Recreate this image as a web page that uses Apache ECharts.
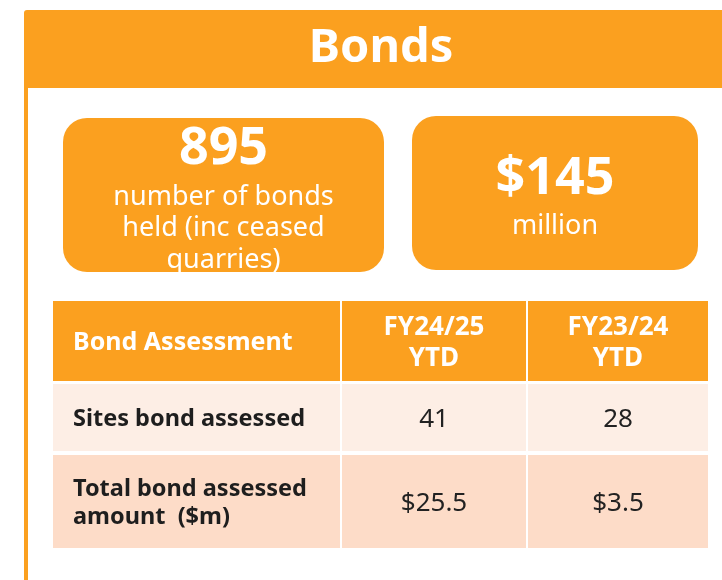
<!DOCTYPE html>
<html>
<head>
<meta charset="utf-8">
<script src="https://cdn.jsdelivr.net/npm/echarts@6/dist/echarts.min.js"></script>
<style>
  html, body { margin: 0; padding: 0; background: #fff; }
  #chart { width: 722px; height: 580px; }
</style>
</head>
<body>
<div id="chart"></div>
<script>
// data
const title = 'Bonds';
const statValues = ['895', '$145'];
const statLabels = [
    ['number of bonds', 'held (inc ceased', 'quarries)'],
    ['million']
];
const tableHeader = ['Bond Assessment', 'FY24/25\nYTD', 'FY23/24\nYTD'];
const rowLabels = ['Sites bond assessed', 'Total bond assessed\namount  ($m)'];
const fy2425 = ['41', '$25.5'];
const fy2324 = ['28', '$3.5'];

const ORANGE = '#FBA01F';
const FONT = '"Noto Sans", sans-serif';

const chart = echarts.init(document.getElementById('chart'));

const els = [];

// frame: header band + left border
els.push({ type: 'rect', shape: { x: 24, y: 10, width: 710, height: 78, r: [3, 0, 0, 0] }, style: { fill: ORANGE } });
els.push({ type: 'rect', shape: { x: 24, y: 86, width: 4, height: 500 }, style: { fill: ORANGE } });
els.push({
    type: 'text', x: 381, y: 49,
    style: { text: title, fill: '#fff', font: 'bold 47px ' + FONT, align: 'center', verticalAlign: 'middle' }
});

// stat boxes
const boxes = [
    { x: 63, y: 118, w: 321, h: 154, valY: 149, labY: 197 },
    { x: 412, y: 116, w: 286, h: 154, valY: 179, labY: 226 }
];
boxes.forEach((b, i) => {
    const cx = b.x + b.w / 2;
    els.push({ type: 'rect', shape: { x: b.x, y: b.y, width: b.w, height: b.h, r: 24 }, style: { fill: ORANGE } });
    els.push({
        type: 'text', x: cx, y: b.valY,
        style: { text: statValues[i], fill: '#fff', font: 'bold 52px ' + FONT, align: 'center', verticalAlign: 'middle' }
    });
    statLabels[i].forEach((t, j) => {
        els.push({
            type: 'text', x: cx, y: b.labY + j * 31.5,
            style: { text: t, fill: '#fff', font: '27px ' + FONT, align: 'center', verticalAlign: 'middle' }
        });
    });
});

// table
const colX = [53, 342, 528];
const colW = [287, 184, 180];
const rowY = [301, 384, 455];
const rowH = [80, 67, 93];
const rowFill = [ORANGE, '#FDEEE5', '#FDDCC8'];

const cells = [tableHeader].concat(rowLabels.map((l, i) => [l, fy2425[i], fy2324[i]]));
cells.forEach((row, r) => {
    row.forEach((txt, c) => {
        els.push({ type: 'rect', shape: { x: colX[c], y: rowY[r], width: colW[c], height: rowH[r] }, style: { fill: rowFill[r] } });
        const isHead = r === 0;
        const cy = rowY[r] + rowH[r] / 2 + 2;
        if (c === 0) {
            els.push({
                type: 'text', x: 73, y: cy,
                style: {
                    text: txt, fill: isHead ? '#fff' : '#1E1E1E', font: 'bold ' + (isHead ? 25 : 23.5) + 'px ' + FONT,
                    align: 'left', verticalAlign: 'middle', lineHeight: 28
                }
            });
        } else {
            els.push({
                type: 'text', x: colX[c] + colW[c] / 2, y: cy,
                style: {
                    text: txt, fill: isHead ? '#fff' : '#222',
                    font: (isHead ? 'bold 26px ' : '26px ') + FONT,
                    align: 'center', verticalAlign: 'middle', lineHeight: 31
                }
            });
        }
    });
});

chart.setOption({
    backgroundColor: '#fff',
    animation: false,
    graphic: { elements: els }
});
</script>
</body>
</html>
